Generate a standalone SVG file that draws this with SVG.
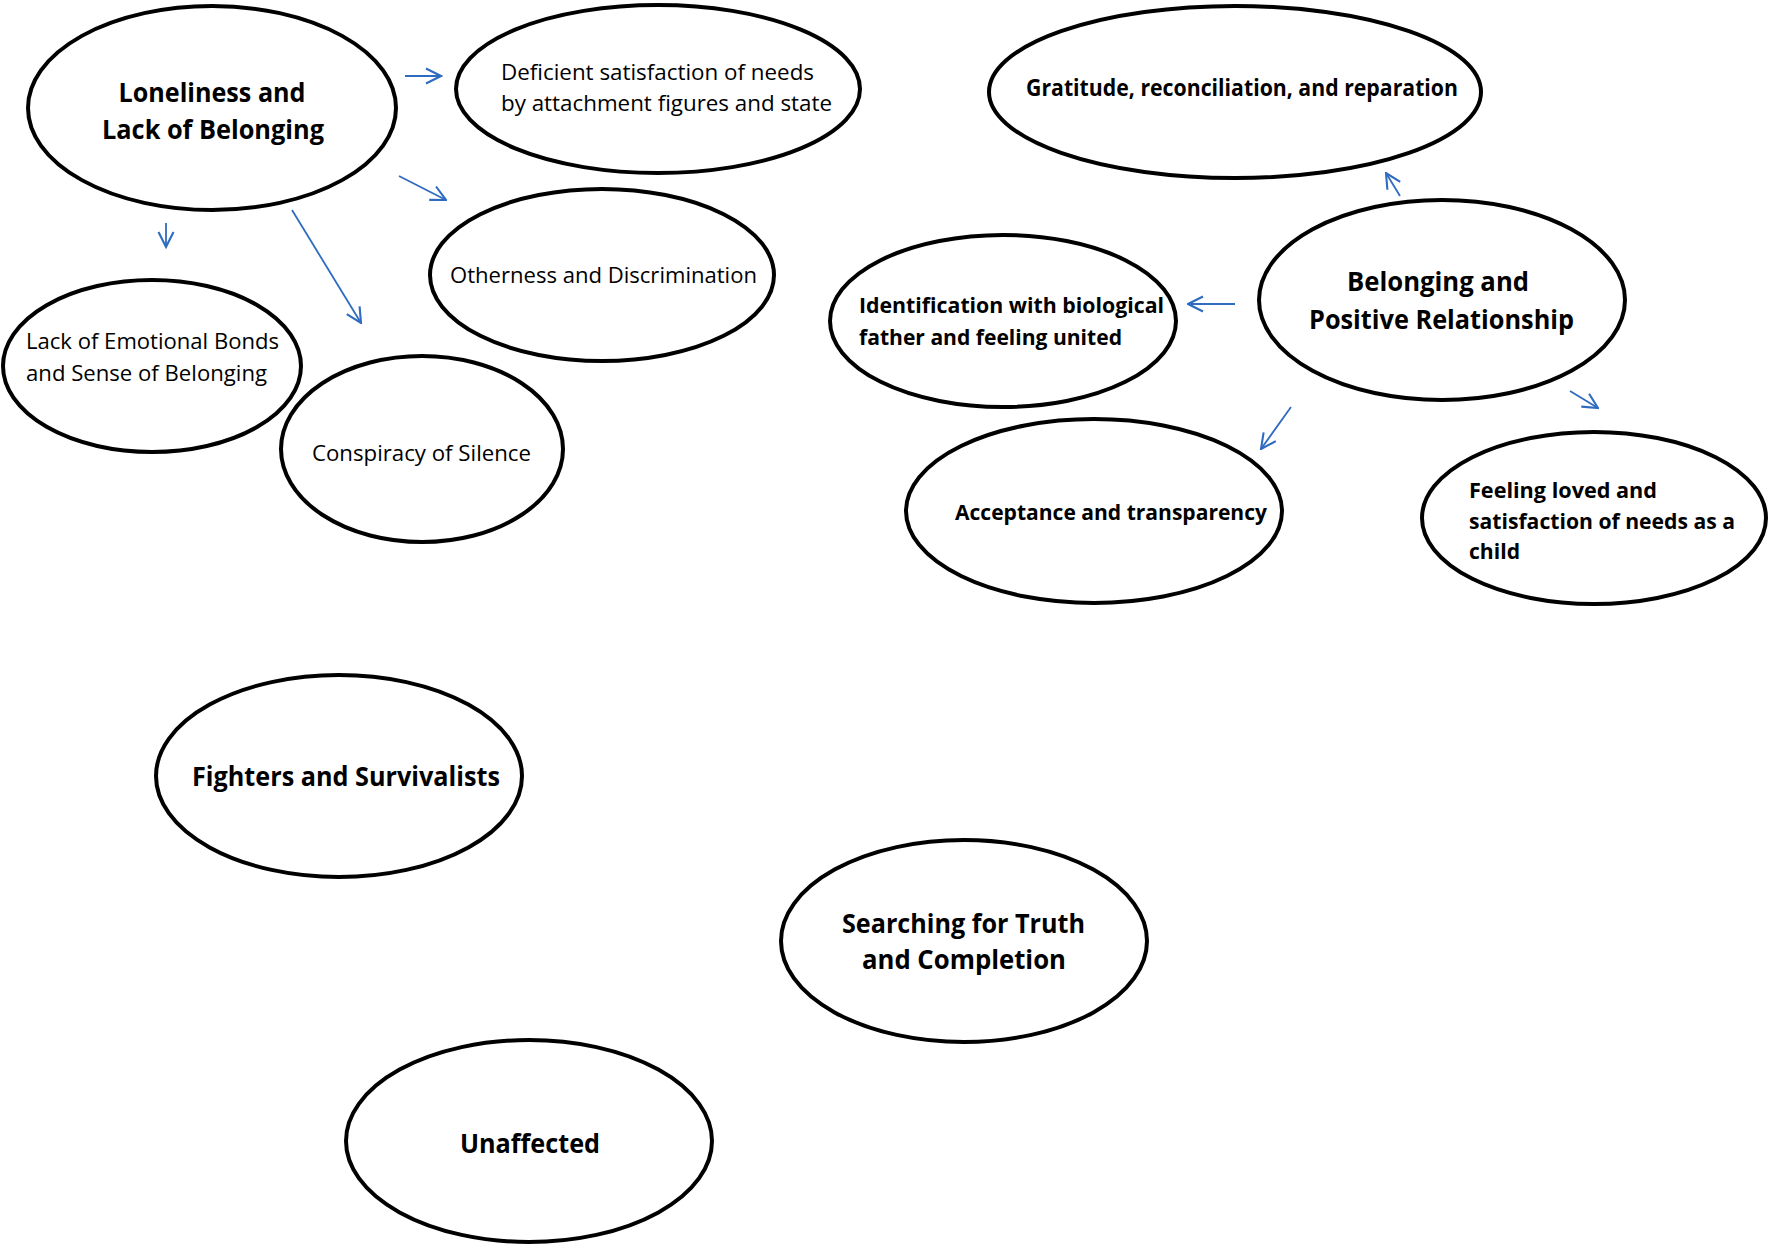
<svg xmlns="http://www.w3.org/2000/svg" width="1772" height="1248" viewBox="0 0 1772 1248">
<defs>
<marker id="arr" viewBox="0 0 12 12" refX="11" refY="6" markerWidth="18" markerHeight="18" markerUnits="userSpaceOnUse" orient="auto">
<path d="M1,1 L11,6 L1,11" fill="none" stroke="#2f6bbf" stroke-width="1.4"/>
</marker>
<style>
.n{fill:#fff;stroke:#000;stroke-width:4}
.t{font-family:"Open Sans","Noto Sans","Liberation Sans",sans-serif;fill:#000}
.r{font-size:22px}
.b{font-weight:bold}
.c{stroke:#2f6bbf;stroke-width:1.8;fill:none;marker-end:url(#arr)}
</style>
</defs>
<rect width="1772" height="1248" fill="#fff"/>
<g id="n1"><ellipse class="n" cx="212" cy="108" rx="184" ry="102"/>
<text class="t b" font-size="27" text-anchor="middle" x="212" y="102" textLength="187" lengthAdjust="spacingAndGlyphs">Loneliness and</text>
<text class="t b" font-size="27" text-anchor="middle" x="213" y="139" textLength="222" lengthAdjust="spacingAndGlyphs">Lack of Belonging</text></g>
<g id="n2"><ellipse class="n" cx="658" cy="89" rx="202" ry="84"/>
<text class="t r" x="501" y="80" textLength="313" lengthAdjust="spacingAndGlyphs">Deficient satisfaction of needs</text>
<text class="t r" x="501" y="111" textLength="331" lengthAdjust="spacingAndGlyphs">by attachment figures and state</text></g>
<g id="n3"><ellipse class="n" cx="602" cy="275" rx="172" ry="86"/>
<text class="t r" x="450" y="283" textLength="307" lengthAdjust="spacingAndGlyphs">Otherness and Discrimination</text></g>
<g id="n4"><ellipse class="n" cx="152" cy="366" rx="149" ry="86"/>
<text class="t r" x="26" y="349" textLength="253" lengthAdjust="spacingAndGlyphs">Lack of Emotional Bonds</text>
<text class="t r" x="26" y="381" textLength="241" lengthAdjust="spacingAndGlyphs">and Sense of Belonging</text></g>
<g id="n5"><ellipse class="n" cx="422" cy="449" rx="141" ry="93"/>
<text class="t r" x="312" y="461" textLength="219" lengthAdjust="spacingAndGlyphs">Conspiracy of Silence</text></g>
<g id="n6"><ellipse class="n" cx="1235" cy="92" rx="246" ry="86"/>
<text class="t b" font-size="23" x="1026" y="96" textLength="432" lengthAdjust="spacingAndGlyphs">Gratitude, reconciliation, and reparation</text></g>
<g id="n7"><ellipse class="n" cx="1442" cy="300" rx="183" ry="100"/>
<text class="t b" font-size="27" x="1347" y="291" textLength="182" lengthAdjust="spacingAndGlyphs">Belonging and</text>
<text class="t b" font-size="27" x="1309" y="329" textLength="265" lengthAdjust="spacingAndGlyphs">Positive Relationship</text></g>
<g id="n8"><ellipse class="n" cx="1003" cy="321" rx="173" ry="86"/>
<text class="t b" font-size="22" x="859" y="313" textLength="305" lengthAdjust="spacingAndGlyphs">Identification with biological</text>
<text class="t b" font-size="22" x="859" y="345" textLength="263" lengthAdjust="spacingAndGlyphs">father and feeling united</text></g>
<g id="n9"><ellipse class="n" cx="1094" cy="511" rx="188" ry="92"/>
<text class="t b" font-size="22" x="955" y="520" textLength="312" lengthAdjust="spacingAndGlyphs">Acceptance and transparency</text></g>
<g id="n10"><ellipse class="n" cx="1594" cy="518" rx="172" ry="86"/>
<text class="t b" font-size="22" x="1469" y="498" textLength="188" lengthAdjust="spacingAndGlyphs">Feeling loved and</text>
<text class="t b" font-size="22" x="1469" y="529" textLength="266" lengthAdjust="spacingAndGlyphs">satisfaction of needs as a</text>
<text class="t b" font-size="22" x="1469" y="559" textLength="51" lengthAdjust="spacingAndGlyphs">child</text></g>
<g id="n11"><ellipse class="n" cx="339" cy="776" rx="183" ry="101"/>
<text class="t b" font-size="26" x="192" y="786" textLength="308" lengthAdjust="spacingAndGlyphs">Fighters and Survivalists</text></g>
<g id="n12"><ellipse class="n" cx="964" cy="941" rx="183" ry="101"/>
<text class="t b" font-size="27" x="842" y="933" textLength="243" lengthAdjust="spacingAndGlyphs">Searching for Truth</text>
<text class="t b" font-size="27" x="862" y="969" textLength="204" lengthAdjust="spacingAndGlyphs">and Completion</text></g>
<g id="n13"><ellipse class="n" cx="529" cy="1141" rx="183" ry="101"/>
<text class="t b" font-size="27" x="460" y="1153" textLength="140" lengthAdjust="spacingAndGlyphs">Unaffected</text></g>
<g id="connectors">
<line class="c" x1="405" y1="76" x2="441" y2="76"/>
<line class="c" x1="399" y1="176" x2="446" y2="200"/>
<line class="c" x1="166" y1="223" x2="166" y2="247"/>
<line class="c" x1="292" y1="210" x2="361" y2="323"/>
<line class="c" x1="1400" y1="196" x2="1386" y2="173"/>
<line class="c" x1="1235" y1="304" x2="1188" y2="304"/>
<line class="c" x1="1291" y1="407" x2="1261" y2="449"/>
<line class="c" x1="1570" y1="391" x2="1598" y2="408"/>
</g>
</svg>
